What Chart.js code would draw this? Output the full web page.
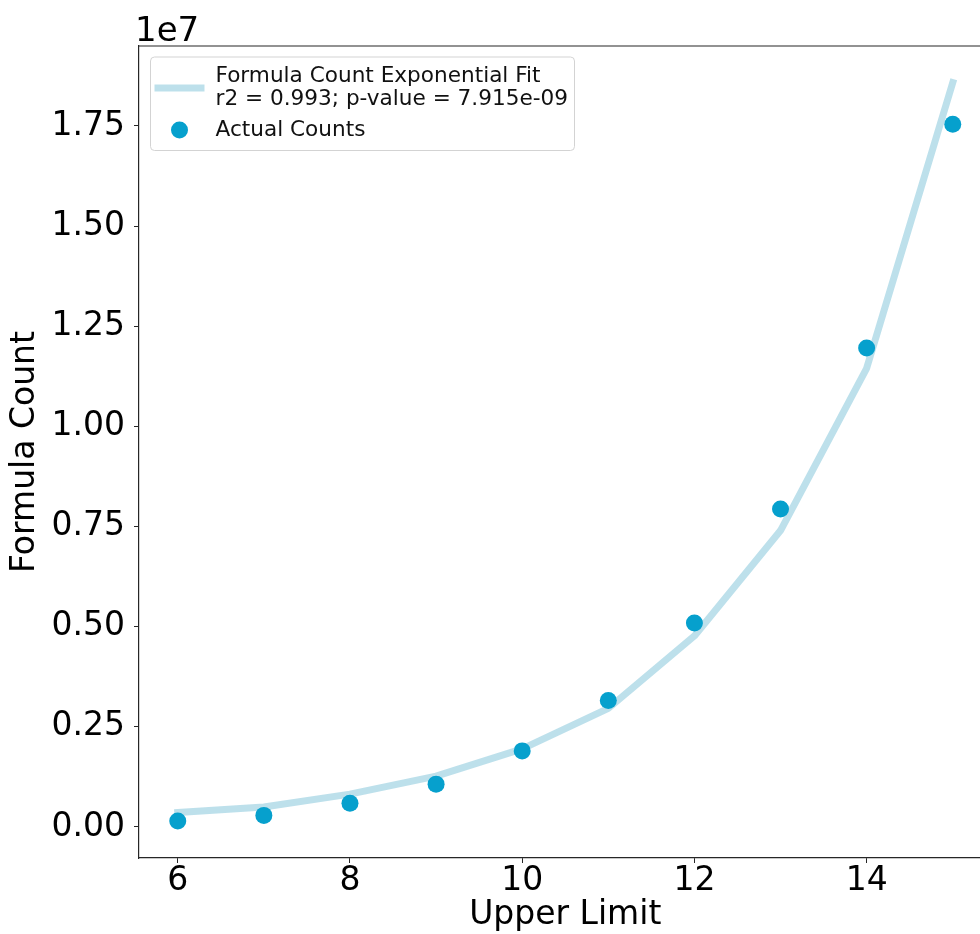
<!DOCTYPE html>
<html><head><meta charset="utf-8">
<script src="https://cdn.jsdelivr.net/npm/chart.js@4/dist/chart.umd.min.js"></script>
<style>
html,body{margin:0;padding:0;background:#fff;overflow:hidden;}
#wrap{width:980px;height:934px;overflow:hidden;position:relative;background:#fff;}
canvas{display:block;}
</style></head><body>
<div id="wrap"><canvas id="c" width="1000" height="934" style="width:1000px;height:934px"></canvas></div>
<script>
const upperLimits = [6, 7, 8, 9, 10, 11, 12, 13, 14, 15];
const actualCounts = [150000, 290000, 590000, 1070000, 1900000, 3160000, 5090000, 7940000, 11960000, 17540000];
const fitCounts = [360000, 500000, 820000, 1270000, 1950000, 2960000, 4770000, 7400000, 11450000, 18580000];
const xTicks = [6, 8, 10, 12, 14];
const yTicks = [0, 2500000, 5000000, 7500000, 10000000, 12500000, 15000000, 17500000];
const fitLabel = ['Formula Count Exponential Fit', 'r2 = 0.993; p-value = 7.915e-09'];
const pointLabel = 'Actual Counts';
const xTitle = 'Upper Limit';
const yTitle = 'Formula Count';
const offsetText = '1e7';

const FONT = '"DejaVu Sans", "Liberation Sans", sans-serif';
const FIT_COLOR = 'rgba(173,216,230,0.8)';
const PT_COLOR = '#06a0cd';
const AXIS_COLOR = '#262626';

const extras = {
  id: 'extras',
  afterDatasetsDraw(chart) {
    const {ctx, chartArea: a} = chart;
    ctx.save();
    ctx.strokeStyle = AXIS_COLOR;
    ctx.lineWidth = 1.2;
    ctx.beginPath();
    ctx.moveTo(a.left, a.top);
    ctx.lineTo(a.right, a.top);
    ctx.lineTo(a.right, a.bottom);
    ctx.stroke();
    ctx.restore();
  },
  afterDraw(chart) {
    const {ctx, chartArea: a} = chart;
    ctx.save();
    // offset text
    ctx.fillStyle = '#000';
    ctx.font = '34px ' + FONT;
    ctx.textAlign = 'left';
    ctx.textBaseline = 'alphabetic';
    ctx.fillText(offsetText, a.left - 4, a.top - 5);
    // legend box
    const bx = a.left + 11.5, by = a.top + 11, bw = 424, bh = 93.5, r = 4;
    ctx.beginPath();
    ctx.moveTo(bx + r, by);
    ctx.lineTo(bx + bw - r, by);
    ctx.quadraticCurveTo(bx + bw, by, bx + bw, by + r);
    ctx.lineTo(bx + bw, by + bh - r);
    ctx.quadraticCurveTo(bx + bw, by + bh, bx + bw - r, by + bh);
    ctx.lineTo(bx + r, by + bh);
    ctx.quadraticCurveTo(bx, by + bh, bx, by + bh - r);
    ctx.lineTo(bx, by + r);
    ctx.quadraticCurveTo(bx, by, bx + r, by);
    ctx.closePath();
    ctx.fillStyle = 'rgba(255,255,255,0.8)';
    ctx.fill();
    ctx.strokeStyle = '#d3d3d3';
    ctx.lineWidth = 1;
    ctx.stroke();
    // line sample
    ctx.strokeStyle = FIT_COLOR;
    ctx.lineWidth = 7;
    ctx.lineCap = 'butt';
    ctx.beginPath();
    ctx.moveTo(bx + 4, a.top + 42);
    ctx.lineTo(bx + 54, a.top + 42);
    ctx.stroke();
    // point sample
    ctx.fillStyle = PT_COLOR;
    ctx.beginPath();
    ctx.arc(bx + 29, a.top + 84, 8.5, 0, Math.PI * 2);
    ctx.fill();
    // texts
    ctx.fillStyle = '#111';
    ctx.font = '21.6px ' + FONT;
    ctx.textAlign = 'left';
    ctx.textBaseline = 'alphabetic';
    ctx.fillText(fitLabel[0], bx + 65, a.top + 36);
    ctx.fillText(fitLabel[1], bx + 65, a.top + 59);
    ctx.fillText(pointLabel, bx + 65, a.top + 90);
    ctx.restore();
  }
};

new Chart(document.getElementById('c'), {
  type: 'scatter',
  data: {
    datasets: [
      {
        label: pointLabel,
        data: upperLimits.map((x, i) => ({x: x, y: actualCounts[i]})),
        backgroundColor: PT_COLOR,
        borderWidth: 0,
        pointRadius: 8.5,
        pointHoverRadius: 8.5,
        order: 0
      },
      {
        label: fitLabel.join(' '),
        data: upperLimits.map((x, i) => ({x: x, y: fitCounts[i]})),
        showLine: true,
        borderColor: FIT_COLOR,
        backgroundColor: FIT_COLOR,
        borderWidth: 7,
        borderCapStyle: 'square',
        borderJoinStyle: 'round',
        pointRadius: 0,
        tension: 0,
        fill: false,
        order: 1
      }
    ]
  },
  options: {
    responsive: false,
    animation: false,
    devicePixelRatio: 1,
    layout: {padding: {left: 0, top: 46, right: 7.5, bottom: 0}},
    plugins: {legend: {display: false}, tooltip: {enabled: false}},
    scales: {
      x: {
        type: 'linear',
        min: 5.55,
        max: 15.45,
        afterBuildTicks: s => { s.ticks = xTicks.map(v => ({value: v})); },
        afterFit: s => { s.height = 76; },
        grid: {display: true, drawOnChartArea: false, drawTicks: true, tickLength: 5, tickColor: AXIS_COLOR, tickWidth: 1},
        border: {display: true, color: AXIS_COLOR, width: 1.2},
        ticks: {
          color: '#000',
          padding: 2,
          maxRotation: 0,
          font: {family: FONT, size: 33, lineHeight: 1},
          callback: v => String(v)
        },
        title: {display: true, text: xTitle, color: '#000', font: {family: FONT, size: 33, lineHeight: 1}, padding: {top: 0, bottom: 2}}
      },
      y: {
        type: 'linear',
        min: -774000,
        max: 19496000,
        afterBuildTicks: s => { s.ticks = yTicks.map(v => ({value: v})); },
        afterFit: s => { s.width = 139; },
        grid: {display: true, drawOnChartArea: false, drawTicks: true, tickLength: 5, tickColor: AXIS_COLOR, tickWidth: 1},
        border: {display: true, color: AXIS_COLOR, width: 1.2},
        ticks: {
          color: '#000',
          padding: 9,
          font: {family: FONT, size: 33, lineHeight: 1},
          callback: v => (v / 1e7).toFixed(2)
        },
        title: {display: true, text: yTitle, color: '#000', font: {family: FONT, size: 33, lineHeight: 1}, padding: {top: 9, bottom: 0}}
      }
    }
  },
  plugins: [extras]
});
</script>
</body></html>
